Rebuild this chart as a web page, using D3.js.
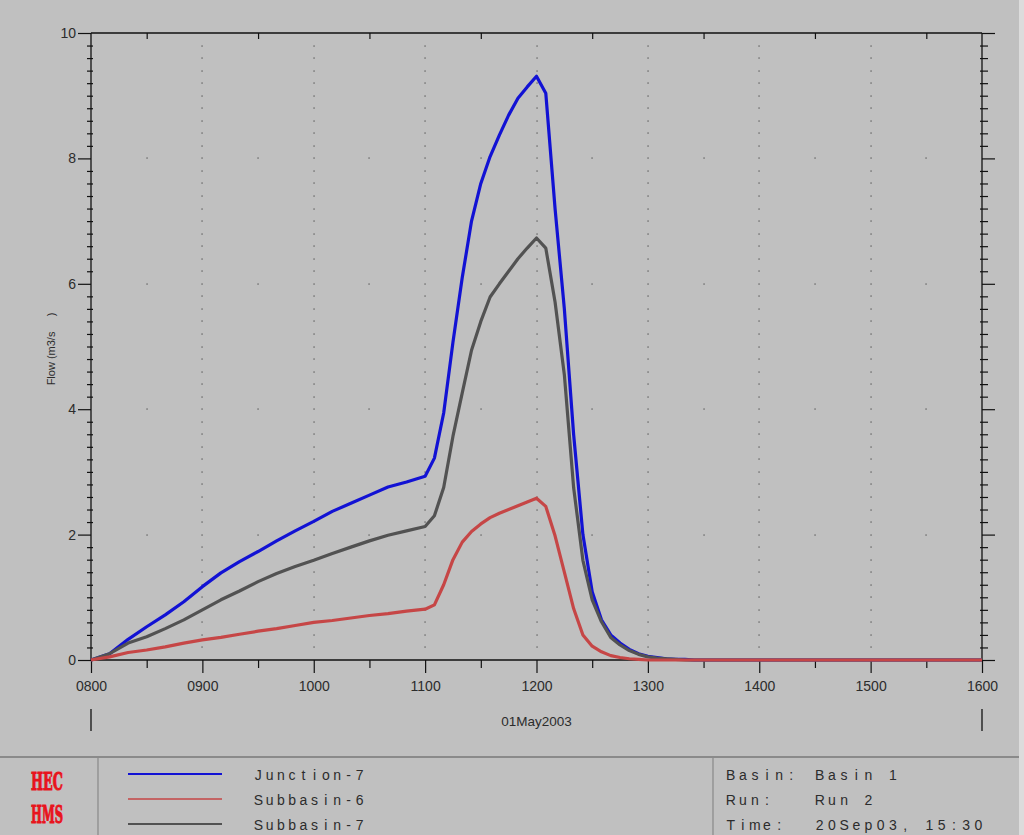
<!DOCTYPE html>
<html><head><meta charset="utf-8">
<script src="https://cdn.jsdelivr.net/npm/d3@7"></script>
<style>html,body{margin:0;padding:0;background:#c0c0c0;overflow:hidden} svg{display:block}</style>
</head><body>
<svg id="c" width="1024" height="835"></svg>
<script>
// ---- data ----
const times = ["08:00","08:10","08:20","08:30","08:40","08:50","09:00","09:10","09:20","09:30",
  "09:40","09:50","10:00","10:10","10:20","10:30","10:40","10:50","11:00",
  "11:05","11:10","11:15","11:20","11:25","11:30","11:35","11:40","11:45","11:50",
  "11:55","12:00","12:05","12:10","12:15","12:20","12:25","12:30","12:35","12:40",
  "12:45","12:50","12:55","13:00","13:05","13:10","13:15","13:20","13:25","13:30",
  "14:00","15:00","16:00"];
const junction7 = [0,0.1,0.33,0.53,0.72,0.93,1.17,1.39,1.57,1.73,
  1.90,2.06,2.21,2.37,2.50,2.63,2.76,2.84,2.93,
  3.22,3.94,5.07,6.1,7.0,7.6,8.03,8.37,8.69,8.96,
  9.14,9.31,9.04,7.2,5.6,3.6,2.0,1.09,0.64,0.40,
  0.27,0.17,0.10,0.06,0.04,0.02,0.01,0.01,0,0,
  0,0,0];
const subbasin6 = [0,0.05,0.12,0.16,0.21,0.27,0.32,0.36,0.41,0.46,
  0.50,0.55,0.60,0.63,0.67,0.71,0.74,0.78,0.81,
  0.88,1.2,1.6,1.88,2.05,2.17,2.27,2.34,2.4,2.46,
  2.52,2.58,2.45,1.98,1.4,0.82,0.40,0.22,0.13,0.07,
  0.04,0.02,0.01,0,0,0,0,0,0,0,
  0,0,0];
const subbasin7 = [0,0.1,0.27,0.37,0.5,0.64,0.80,0.96,1.10,1.25,
  1.38,1.49,1.59,1.70,1.80,1.90,1.99,2.06,2.13,
  2.3,2.75,3.57,4.26,4.94,5.4,5.79,6.0,6.2,6.4,
  6.57,6.73,6.57,5.71,4.55,2.75,1.59,0.96,0.61,0.36,
  0.24,0.15,0.09,0.05,0.03,0.02,0.01,0,0,0,
  0,0,0];
const seriesNames = ["Junction-7","Subbasin-6","Subbasin-7"];
const seriesColors = ["#1212d4","#c64646","#525252"];
const yTicks = [0,2,4,6,8,10];
const xHourTicks = ["08:00","09:00","10:00","11:00","12:00","13:00","14:00","15:00","16:00"];
const xHalfTicks = ["08:30","09:30","10:30","11:30","12:30","13:30","14:30","15:30"];
const dateLabel = "01May2003";
const yLabel = "Flow (m3/s     )";
const infoKeys = ["Basin:","Run:","Time:"];
const infoVals = ["Basin 1","Run 2","20Sep03, 15:30"];

// ---- setup ----
const parse = t => new Date(Date.UTC(2003,4,1,+t.slice(0,2),+t.slice(3,5)));
const svg = d3.select("#c");
const FONT = "'Liberation Sans', Arial, sans-serif";
const TXT = "#2c2c2c";
svg.append("rect").attr("width",1024).attr("height",835).attr("fill","#c0c0c0");
svg.append("rect").attr("x",1019).attr("width",5).attr("height",835).attr("fill","#dcdcdc");

const x = d3.scaleUtc().domain([parse("08:00"), parse("16:00")]).range([91, 982]);
const y = d3.scaleLinear().domain([0,10]).range([660,33]);
const [X0,X1] = x.range(), [Y0,Y1] = y.range();

// grid dots
const minorY = d3.range(1,50).map(i => i/5).filter(v => Math.abs(v/2 - Math.round(v/2)) > 1e-6);
const gridY = d3.range(1,50).map(i => i/5);
const grid = svg.append("g").attr("fill","#3a3a3a");
xHourTicks.slice(1,-1).forEach(t => {
  gridY.forEach(v => grid.append("rect").attr("x", Math.round(x(parse(t)))-0.5).attr("y", Math.round(y(v))-0.5).attr("width",1.1).attr("height",1.1));
});
yTicks.slice(1,-1).forEach(v => {
  xHalfTicks.forEach(t => grid.append("rect").attr("x", Math.round(x(parse(t)))-0.5).attr("y", Math.round(y(v))-0.5).attr("width",1.1).attr("height",1.1));
});

function styleAxis(g){
  g.select(".domain").remove();
  g.selectAll(".tick line").attr("stroke","#111").attr("stroke-width",1.2);
  g.selectAll(".tick text").attr("fill",TXT).style("font-family",FONT).style("font-size","14px");
}

// frame
const frame = svg.append("g").attr("stroke","#111").attr("stroke-width",1.3);
frame.append("line").attr("x1",X0).attr("x2",X0).attr("y1",Y1).attr("y2",Y0);
frame.append("line").attr("x1",X1).attr("x2",X1).attr("y1",Y1).attr("y2",Y0);
frame.append("line").attr("x1",X0).attr("x2",X1).attr("y1",Y1).attr("y2",Y1);
frame.append("line").attr("x1",X0).attr("x2",X1).attr("y1",Y0).attr("y2",Y0);

// left axis
svg.append("g").attr("transform",`translate(${X0},0)`)
  .call(d3.axisLeft(y).tickValues(yTicks).tickSize(13).tickPadding(2).tickFormat(d3.format("d")))
  .call(styleAxis);
svg.append("g").attr("transform",`translate(${X0},0)`)
  .call(d3.axisLeft(y).tickValues(minorY).tickSize(4).tickFormat(""))
  .call(styleAxis).selectAll(".tick line").attr("x1",2);
// right axis
svg.append("g").attr("transform",`translate(${X1},0)`)
  .call(d3.axisRight(y).tickValues(yTicks).tickSize(13).tickFormat(""))
  .call(styleAxis);
svg.append("g").attr("transform",`translate(${X1},0)`)
  .call(d3.axisRight(y).tickValues(minorY).tickSize(6).tickFormat(""))
  .call(styleAxis).selectAll(".tick line").attr("x1",-2);
// bottom axis
svg.append("g").attr("transform",`translate(0,${Y0})`)
  .call(d3.axisBottom(x).tickValues(xHourTicks.map(parse)).tickSize(13).tickPadding(8).tickFormat(d3.utcFormat("%H%M")))
  .call(styleAxis);
svg.append("g").attr("transform",`translate(0,${Y0})`)
  .call(d3.axisBottom(x).tickValues(xHalfTicks.map(parse)).tickSize(8).tickFormat(""))
  .call(styleAxis);
// top axis (inward half-hour ticks)
svg.append("g").attr("transform",`translate(0,${Y1})`)
  .call(d3.axisBottom(x).tickValues(xHalfTicks.map(parse)).tickSize(6).tickFormat(""))
  .call(styleAxis);

// y label
svg.append("text").attr("transform",`translate(55,349) rotate(-90)`)
  .attr("text-anchor","middle").attr("fill",TXT).style("font-family",FONT).style("font-size","11px")
  .style("white-space","pre").attr("xml:space","preserve").text(yLabel);

// date label and marks
svg.append("text").attr("x",x(parse("12:00"))).attr("y",726).attr("text-anchor","middle")
  .attr("fill",TXT).style("font-family",FONT).style("font-size","13.5px").text(dateLabel);
[X0,X1].forEach(px => svg.append("line").attr("x1",px).attr("x2",px).attr("y1",709).attr("y2",731)
  .attr("stroke","#111").attr("stroke-width",1.3));

// series lines
const seriesData = [junction7, subbasin7, subbasin6];
const seriesIdx = [0,2,1];
const line = d3.line().x(d => x(d.t)).y(d => y(d.v));
seriesData.forEach((vals, k) => {
  const data = times.map((t,i) => ({t: parse(t), v: vals[i]}));
  svg.append("path").datum(data).attr("d", line).attr("fill","none")
    .attr("stroke", seriesColors[seriesIdx[k]]).attr("stroke-width",3.2).attr("stroke-linejoin","round");
});

// legend panel
svg.append("line").attr("x1",0).attr("x2",1019).attr("y1",757).attr("y2",757).attr("stroke","#8a8a8a").attr("stroke-width",2);
[98,713].forEach(px => svg.append("line").attr("x1",px).attr("x2",px).attr("y1",758).attr("y2",835).attr("stroke","#888").attr("stroke-width",1.2));

// logo
["HEC","HMS"].forEach((s,i) => svg.append("text").attr("x",31).attr("y",790 + i*33)
  .attr("textLength",32).attr("lengthAdjust","spacingAndGlyphs")
  .attr("fill","#e8141c").attr("stroke","#e8141c").attr("stroke-width",1.1)
  .style("font-family","'DejaVu Serif', 'Liberation Serif', serif")
  .style("font-weight","900").style("font-size","24px").text(s));

function spaced(str, cx0, pitch, yy, size){
  const xs = Array.from(str).map((c,i) => (cx0 + i*pitch).toFixed(1)).join(" ");
  svg.append("text").attr("x", xs).attr("y", yy).attr("text-anchor","middle")
    .attr("fill",TXT).style("font-family",FONT).style("font-size",size).attr("xml:space","preserve").style("white-space","pre").text(str);
}
seriesNames.forEach((n,i) => {
  const yy = 774 + i*25;
  svg.append("line").attr("x1",128).attr("x2",222).attr("y1",yy).attr("y2",yy)
    .attr("stroke",seriesColors[i]).attr("stroke-width", i===1 ? 1.6 : 2);
  spaced(n, 258.3, 11.27, 780 + i*25, "14px");
});
infoKeys.forEach((k,i) => {
  spaced(k, 730.7, 12.1, 780 + i*25, "14px");
  spaced(infoVals[i], 819.7, 12.2, 780 + i*25, "14px");
});
</script>
</body></html>
